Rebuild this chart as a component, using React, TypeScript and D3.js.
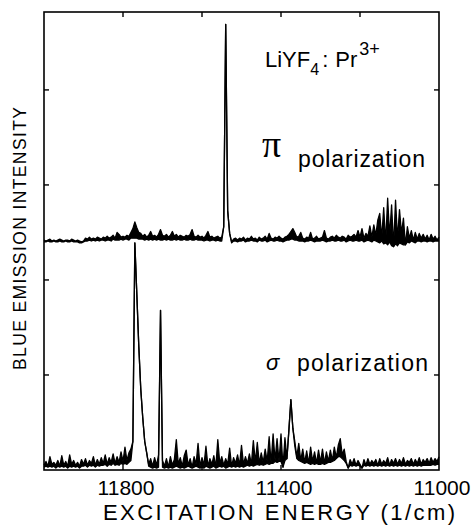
import React from "react";
import * as d3 from "d3";

// Energy grid (1/cm): 201 samples from 12000 down to 11000, step 5
const ENERGY_START = 12000;
const ENERGY_STEP = -5;

// π polarization: max of the noisy trace in each 5 cm-1 bin (relative to stacking offset)
const piUpper = [
  1, 0, 1, 2, 0, 1, 0, 1, 2, 1,
  0, 1, 1, 0, 2, 1, 0, 1, 0, -1,
  0, 3, 2, 4, 2, 3, 2, 4, 3, 2,
  4, 3, 5, 3, 4, 6, 3, 9, 7, 4,
  5, 4, 6, 5, 9, 13, 20, 14, 9, 8,
  5, 7, 4, 6, 10, 5, 6, 4, 7, 12,
  6, 5, 7, 4, 6, 10, 5, 7, 4, 6,
  5, 4, 6, 5, 7, 12, 5, 4, 6, 4,
  5, 3, 6, 10, 4, 5, 3, 4, 5, 3,
  4, 15, 228, 32, 8, -1, 2, 3, 1, 3,
  2, 4, 1, 3, 2, 5, 2, 3, 1, 4,
  2, 3, 5, 2, 8, 3, 2, 4, 3, 5,
  3, 2, 4, 5, 7, 10, 13, 9, 4, 5,
  9, 3, 2, 4, 3, 9, 2, 3, 5, 2,
  3, 4, 11, 3, 2, 4, 5, 3, 6, 4,
  3, 5, 4, 2, 6, 4, 5, 7, 4, 11,
  4, 13, 3, 8, 5, 16, 4, 17, 6, 22,
  29, 3, 35, -2, 45, 5, 38, -6, 43, 2,
  33, 8, 24, -4, 15, 3, 11, 1, 9, 2,
  8, 3, 7, 2, 6, 1, 7, 2, 5, 1, 4,
];
// π polarization: min of the noisy trace in each bin
const piLower = [
  -1, -1, 0, -1, -1, 0, -1, -1, 0, -1,
  -1, 0, -1, -1, 0, -1, -1, -1, -2, -2,
  -1, 0, 0, 1, 0, 1, 0, 1, 0, 1,
  1, 0, 1, 1, 0, 2, 1, 1, 1, 2,
  1, 2, 2, 1, 3, 3, 3, 3, 2, 2,
  2, 1, 2, 1, 2, 1, 2, 1, 2, 1,
  1, 2, 1, 2, 1, 1, 2, 1, 2, 1,
  1, 2, 1, 1, 2, 1, 1, 2, 1, 1,
  1, 0, 1, 1, 0, 1, 1, 0, 1, 0,
  0, 15, 228, 32, 8, -2, 0, 0, -1, 0,
  0, 1, -1, 0, 0, 1, 0, 0, -1, 1,
  0, 0, 1, -1, 0, 1, 0, 0, 1, 0,
  0, -1, 0, 1, 1, 2, 2, 1, 1, 0,
  0, 0, -1, 0, 0, 1, 0, -1, 0, 0,
  0, 1, 0, -1, 0, 0, 1, 0, 0, 1,
  0, 0, 1, -1, 0, 1, 0, 0, 1, 0,
  0, 1, -1, 0, 1, 0, -1, 1, 0, -1,
  -2, 0, -3, -2, -4, -1, -5, -6, -3, -5,
  -2, -3, -4, -4, -1, -2, 0, -1, -2, 0,
  0, -1, 0, 0, -1, 0, 0, -1, 0, 0, 0,
];
const PI_OFFSET = 241;

// σ polarization: max of the noisy trace in each bin
const sigmaUpper = [
  5, 9, 4, 14, 6, 8, 5, 10, 4, 15,
  5, 9, 4, 16, 6, 10, 5, 8, 4, 11,
  6, 12, 5, 10, 7, 14, 5, 11, 6, 13,
  7, 16, 6, 13, 8, 17, 7, 14, 8, 19,
  9, 24, 10, 18, 22, 30, 239, 185, 130, 85,
  55, 30, 18, 6, 12, 4, 13, 5, 16, 168,
  10, 4, 12, 3, 14, 5, 11, 32, 6, 13,
  4, 15, 21, 5, 12, 3, 14, 6, 28, 4,
  13, 5, 25, 4, 12, 6, 15, 3, 32, 7,
  14, 5, 12, 6, 23, 4, 13, 7, 16, 5,
  26, 6, 14, 7, 17, 6, 31, 8, 29, 7,
  18, 8, 22, 9, 35, 7, 38, 10, 33, 9,
  38, 3, 34, 12, 42, 74, 44, 30, 14, 28,
  10, 22, 8, 20, 7, 24, 9, 19, 7, 21,
  8, 22, 7, 19, 9, 21, 10, 24, 13, 26,
  33, 16, 22, 9, 2, 11, 6, 12, 5, 10,
  6, 2, 11, 5, 12, 6, 10, 7, 11, 5,
  12, 6, 10, 7, 13, 5, 11, 7, 12, 6,
  11, 7, 13, 6, 10, 8, 12, 6, 11, 7,
  13, 6, 11, 8, 12, 7, 13, 8, 12, 9, 14,
];
// σ polarization: min of the noisy trace in each bin
const sigmaLower = [
  3, 4, 3, 4, 3, 4, 2, 4, 3, 4,
  3, 4, 2, 4, 3, 4, 3, 4, 2, 4,
  4, 5, 3, 5, 4, 5, 3, 5, 4, 5,
  5, 6, 4, 6, 5, 7, 5, 6, 5, 7,
  6, 7, 6, 8, 10, 30, 239, 185, 130, 85,
  55, 30, 18, 4, 3, 2, 3, 2, 3, 168,
  3, 2, 3, 2, 3, 2, 3, 4, 3, 2,
  3, 2, 3, 4, 3, 2, 3, 4, 3, 2,
  3, 2, 4, 3, 2, 3, 4, 2, 3, 4,
  3, 4, 2, 3, 4, 3, 4, 3, 4, 3,
  4, 3, 4, 5, 4, 5, 4, 5, 6, 5,
  6, 5, 6, 7, 6, 8, 7, 9, 8, 10,
  9, 3, 10, 12, 42, 74, 44, 25, 12, 10,
  9, 8, 7, 8, 7, 6, 7, 6, 7, 6,
  6, 7, 6, 7, 8, 8, 9, 10, 12, 14,
  14, 12, 10, 7, 2, 5, 4, 5, 4, 5,
  4, 2, 5, 4, 5, 4, 5, 4, 5, 4,
  5, 4, 5, 4, 5, 4, 5, 4, 5, 4,
  5, 4, 5, 4, 5, 4, 5, 4, 5, 4,
  5, 4, 5, 5, 5, 5, 5, 6, 5, 6, 6,
];
const SIGMA_OFFSET = 0;

const xTicks = [11800, 11600, 11400, 11200];
const xTickLabels = [11800, 11400, 11000];
const yTicks = [100, 200, 300, 400];

const W = 471;
const H = 529;
const M = { left: 44, right: 439, top: 12, bottom: 470 };
const FONT = "'Liberation Sans', Arial, sans-serif";

type Bin = { e: number; lo: number; hi: number };

export default function App() {
  const x = d3.scaleLinear().domain([12000, 11000]).range([M.left, M.right]);
  const y = d3.scaleLinear().domain([0, 482]).range([M.bottom, M.top]);
  const energy = (i: number) => ENERGY_START + ENERGY_STEP * i;

  const bins = (up: number[], lo: number[]): Bin[] =>
    up.map((u, i) => ({ e: energy(i), hi: u, lo: Math.min(u, lo[i]) }));

  const mkArea = (offset: number) =>
    d3
      .area<Bin>()
      .x((d) => x(d.e))
      .y0((d) => y(d.lo + offset))
      .y1((d) => y(d.hi + offset));
  const mkLine = (offset: number, key: "lo" | "hi") =>
    d3
      .line<Bin>()
      .x((d) => x(d.e))
      .y((d) => y(d[key] + offset));

  const piBins = bins(piUpper, piLower);
  const sigmaBins = bins(sigmaUpper, sigmaLower);
  const tl = 5;

  const spectrum = (data: Bin[], offset: number, key: string) => (
    <g key={key}>
      <path d={mkArea(offset)(data) || ""} fill="#000" stroke="none" />
      <path d={mkLine(offset, "hi")(data) || ""} fill="none" stroke="#000" strokeWidth={1.3} strokeLinejoin="round" />
      <path d={mkLine(offset, "lo")(data) || ""} fill="none" stroke="#000" strokeWidth={1.3} strokeLinejoin="round" />
    </g>
  );

  return (
    <svg
      width={W}
      height={H}
      style={{ position: "absolute", left: 0, top: 0, background: "#fff" }}
    >
      <rect x={0} y={0} width={W} height={H} fill="#fff" />
      {spectrum(piBins, PI_OFFSET, "pi")}
      {spectrum(sigmaBins, SIGMA_OFFSET, "sigma")}

      <rect
        x={M.left}
        y={M.top}
        width={M.right - M.left}
        height={M.bottom - M.top}
        fill="none"
        stroke="#000"
        strokeWidth={1.6}
      />
      {xTicks.map((t) => (
        <g key={"xt" + t}>
          <line x1={x(t)} x2={x(t)} y1={M.top} y2={M.top + tl} stroke="#000" strokeWidth={1.4} />
          <line x1={x(t)} x2={x(t)} y1={M.bottom} y2={M.bottom - tl} stroke="#000" strokeWidth={1.4} />
        </g>
      ))}
      {yTicks.map((t) => (
        <g key={"yt" + t}>
          <line x1={M.left} x2={M.left + tl} y1={y(t)} y2={y(t)} stroke="#000" strokeWidth={1.4} />
          <line x1={M.right} x2={M.right - tl} y1={y(t)} y2={y(t)} stroke="#000" strokeWidth={1.4} />
        </g>
      ))}
      {xTickLabels.map((t) => (
        <text
          key={"xl" + t}
          x={x(t) + 3}
          y={495}
          textAnchor="middle"
          fontFamily={FONT}
          fontSize={21}
          fill="#000"
        >
          {t}
        </text>
      ))}
      <text
        x={279}
        y={520}
        textAnchor="middle"
        fontFamily={FONT}
        fontSize={22}
        textLength={352}
        lengthAdjust="spacing"
        fill="#000"
      >
        EXCITATION ENERGY (1/cm)
      </text>
      <text
        transform={`translate(26,238.5) rotate(-90)`}
        textAnchor="middle"
        fontFamily={FONT}
        fontSize={17.5}
        textLength={263}
        lengthAdjust="spacing"
        fill="#000"
      >
        BLUE EMISSION INTENSITY
      </text>

      <text x={265} y={67} fontFamily={FONT} fontSize={22} fill="#000">
        LiYF
        <tspan fontSize={16} dy={8}>4</tspan>
        <tspan dy={-8} dx={3}>:</tspan>
        <tspan dx={7}>Pr</tspan>
        <tspan fontSize={18} dy={-12} dx={2}>3+</tspan>
      </text>

      <text x={262} y={157} fontFamily="'Liberation Serif', serif" fontSize={38} fill="#000">
        π
      </text>
      <text
        x={298}
        y={167}
        fontFamily={FONT}
        fontSize={23}
        textLength={127}
        lengthAdjust="spacing"
        fill="#000"
      >
        polarization
      </text>

      <text x={266} y={370} fontFamily={FONT} fontStyle="italic" fontSize={22} fill="#000">
        σ
      </text>
      <text
        x={297}
        y={371}
        fontFamily={FONT}
        fontSize={23}
        textLength={131}
        lengthAdjust="spacing"
        fill="#000"
      >
        polarization
      </text>
    </svg>
  );
}
